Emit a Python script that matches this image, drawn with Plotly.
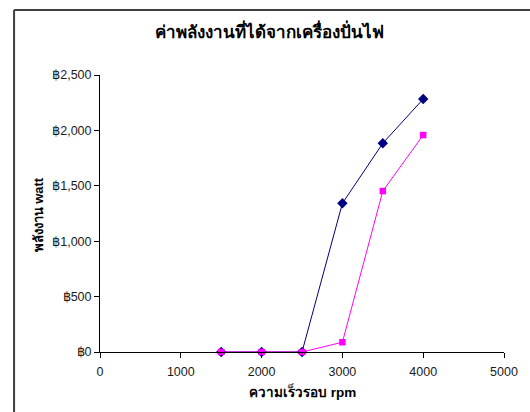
import plotly.graph_objects as go

# Generator output by engine speed
rpm = [1500, 2000, 2500, 3000, 3500, 4000]
power_a = [0, 0, 0, 1342, 1884, 2283]
power_b = [0, 0, 0, 88, 1453, 1958]

y_ticks = [0, 500, 1000, 1500, 2000, 2500]
y_labels = ["฿0", "฿500", "฿1,000", "฿1,500", "฿2,000", "฿2,500"]
x_ticks = [0, 1000, 2000, 3000, 4000, 5000]

title_text = "ค่าพลังงานที่ได้จากเครื่องปั่นไฟ"
x_title = "ความเร็วรอบ rpm"
y_title = "พลังงาน watt"

fig = go.Figure()
fig.add_trace(go.Scatter(
    x=rpm, y=power_a, mode="lines+markers",
    line=dict(color="#000080", width=1),
    marker=dict(symbol="diamond", size=8, color="#000080"),
    showlegend=False, cliponaxis=False,
))
fig.add_trace(go.Scatter(
    x=rpm, y=power_b, mode="lines+markers",
    line=dict(color="#FF00FF", width=1),
    marker=dict(symbol="square", size=6.5, color="#FF00FF"),
    showlegend=False, cliponaxis=False,
))

base = "Liberation Sans, Arial, sans-serif"
axis_font = dict(family=base, size=12.5, color="#1a1a1a")

frame = dict(color="#404040", width=2)

fig.update_layout(
    width=530, height=412,
    margin=dict(l=100, r=21, t=75, b=60),
    paper_bgcolor="white", plot_bgcolor="white",
    xaxis=dict(
        range=[0, 5000], tickvals=x_ticks, ticktext=[str(v) for v in x_ticks],
        showgrid=False, zeroline=False, showline=True, linecolor="black", linewidth=1,
        ticks="outside", ticklen=5, tickcolor="black", tickfont=axis_font,
        ticklabelstandoff=3,
    ),
    yaxis=dict(
        range=[0, 2500], tickvals=y_ticks, ticktext=y_labels,
        showgrid=False, zeroline=False, showline=True, linecolor="black", linewidth=1,
        ticks="outside", ticklen=5, tickcolor="black", tickfont=axis_font,
    ),
    # outer chart frame: only its top and left edges fall inside the view
    shapes=[
        dict(type="line", xref="paper", yref="paper",
             x0=-0.2127, x1=1.1, y0=1.2347, y1=1.2347, line=frame, layer="below"),
        dict(type="line", xref="paper", yref="paper",
             x0=-0.2127, x1=-0.2127, y0=1.2347, y1=-0.3, line=frame, layer="below"),
    ],
    annotations=[
        dict(text=f"<b>{title_text}</b>", xref="paper", yref="paper",
             x=0.42, y=1.159, xanchor="center", yanchor="middle", showarrow=False,
             font=dict(family=base, size=17, color="black")),
        dict(text=f"<b>{x_title}</b>", xref="paper", yref="paper",
             x=0.5, y=-0.144, xanchor="center", yanchor="middle", showarrow=False,
             font=dict(family=base, size=13.5, color="black")),
        dict(text=f"<b>{y_title}</b>", xref="paper", yref="paper",
             x=-0.152, y=0.495, xanchor="center", yanchor="middle", showarrow=False,
             textangle=-90,
             font=dict(family=base, size=13, color="black")),
    ],
)

fig.write_html("out.html")
